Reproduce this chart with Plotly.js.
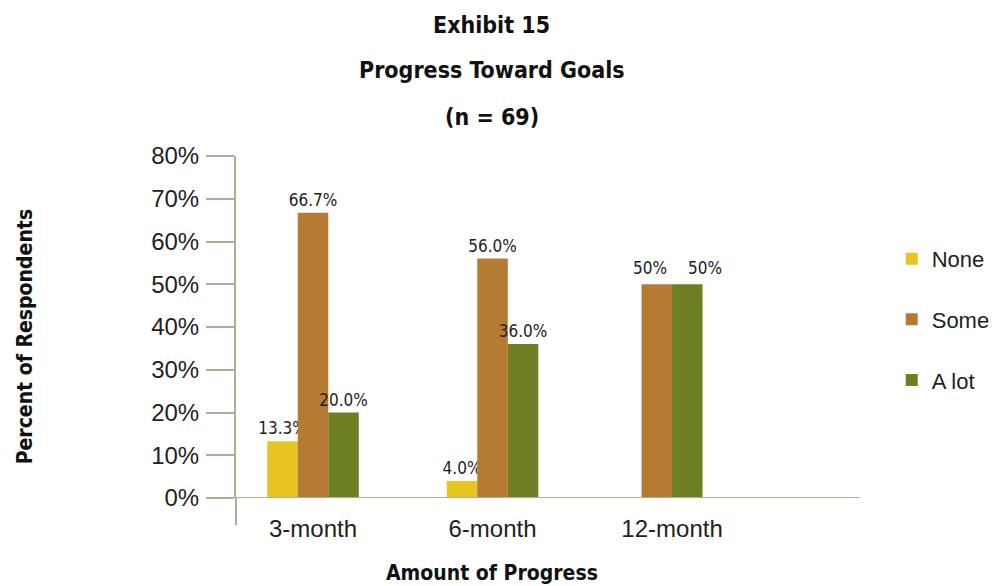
<!DOCTYPE html>
<html><head><meta charset="utf-8">
<script src="https://cdn.plot.ly/plotly-3.0.1.min.js"></script>
<style>body{margin:0;background:#fff}</style>
</head><body>
<div id="chart" style="width:993px;height:586px"></div>
<script>
const categories = ["3-month", "6-month", "12-month"];
const seriesNames = ["None", "Some", "A lot"];
const noneVals = [13.3, 4.0, null];
const someVals = [66.7, 56.0, 50];
const alotVals = [20.0, 36.0, 50];
const noneLabels = ["13.3%", "4.0%", ""];
const someLabels = ["66.7%", "56.0%", "50%"];
const alotLabels = ["20.0%", "36.0%", "50%"];
const yTickVals = [0, 10, 20, 30, 40, 50, 60, 70, 80];
const yTickText = ["0%", "10%", "20%", "30%", "40%", "50%", "60%", "70%", "80%"];

const colors = ["#E8C420", "#B57B33", "#6E7E22"];
const w = 0.17;
const condensed = "DejaVu Sans Condensed, DejaVu Sans, sans-serif";
const labelFont = {family: condensed, size: 17, color: "#222"};
// the last category's labels are drawn as annotations so the two adjacent labels do not collide
function mk(name, y, text, color, offs) {
  const shown = text.map((t, i) => i < 2 ? t : "");
  return {type: "bar", name: name, x: categories, y: y, text: shown,
    textposition: "outside", constraintext: "none", textfont: labelFont, cliponaxis: false,
    marker: {color: color}, width: w, offset: offs, legendgroup: name,
    hoverinfo: "skip"};
}
const data = [
  mk(seriesNames[0], noneVals, noneLabels, colors[0], [-1.5*w, -1.5*w, -1.5*w]),
  mk(seriesNames[1], someVals, someLabels, colors[1], [-0.5*w, -0.5*w, -w]),
  mk(seriesNames[2], alotVals, alotLabels, colors[2], [0.5*w, 0.5*w, 0])
];
const boldFont = {family: condensed, size: 23, color: "#111", weight: "bold"};
const axTitleFont = {family: condensed, size: 21, color: "#111", weight: "bold"};
const axisColor = "#b5aa96";
const layout = {
  width: 993, height: 586,
  margin: {l: 236, r: 133, t: 156, b: 88},
  paper_bgcolor: "#fff", plot_bgcolor: "#fff",
  barmode: "overlay",
  showlegend: true,
  legend: {xref: "container", yref: "container", x: 0.898, y: 0.594, xanchor: "left", yanchor: "top",
    font: {family: "Liberation Sans, sans-serif", size: 22, color: "#222"},
    tracegroupgap: 29, traceorder: "grouped", itemwidth: 30},
  xaxis: {type: "category", range: [-0.429, 3.047], showgrid: false, zeroline: false,
    showline: false, ticks: "", tickfont: {family: "Liberation Sans, sans-serif", size: 24, color: "#222"},
    ticklabelstandoff: 14},
  yaxis: {range: [0, 80], tickvals: yTickVals, ticktext: yTickText, showgrid: false, zeroline: false,
    showline: true, linecolor: axisColor, linewidth: 2, ticks: "outside", ticklen: 28, tickcolor: axisColor, tickwidth: 2,
    ticklabelstandoff: 2,
    tickfont: {family: "Liberation Sans, sans-serif", size: 24, color: "#222"}},
  shapes: [
    {type: "line", xref: "paper", yref: "y", x0: -0.047, x1: 1, y0: 0, y1: 0, line: {color: axisColor, width: 2}},
    {type: "line", xref: "paper", yref: "paper", x0: 0, x1: 0, y0: -0.08, y1: 0, line: {color: axisColor, width: 2}}
  ],
  annotations: [
    {text: "Exhibit 15", xref: "paper", yref: "paper", x: 0.41, y: 1, yshift: 131, xanchor: "center", yanchor: "middle", showarrow: false, font: boldFont},
    {text: "Progress Toward Goals", xref: "paper", yref: "paper", x: 0.41, y: 1, yshift: 86, xanchor: "center", yanchor: "middle", showarrow: false, font: boldFont},
    {text: "(n = 69)", xref: "paper", yref: "paper", x: 0.41, y: 1, yshift: 39, xanchor: "center", yanchor: "middle", showarrow: false, font: boldFont},
    {text: "Amount of Progress", xref: "paper", yref: "paper", x: 0.41, y: 0, yshift: -75, xanchor: "center", yanchor: "middle", showarrow: false, font: axTitleFont},
    {text: "Percent of Respondents", xref: "paper", yref: "paper", x: -0.338, y: 0.47, textangle: -90, xanchor: "center", yanchor: "middle", showarrow: false, font: axTitleFont},
    {text: someLabels[2], xref: "x", yref: "y", x: categories[2], y: someVals[2], xshift: -22, yshift: 4, xanchor: "center", yanchor: "bottom", showarrow: false, font: labelFont},
    {text: alotLabels[2], xref: "x", yref: "y", x: categories[2], y: alotVals[2], xshift: 33, yshift: 4, xanchor: "center", yanchor: "bottom", showarrow: false, font: labelFont}
  ]
};
Plotly.newPlot("chart", data, layout, {displayModeBar: false, staticPlot: true});
</script>
</body></html>
